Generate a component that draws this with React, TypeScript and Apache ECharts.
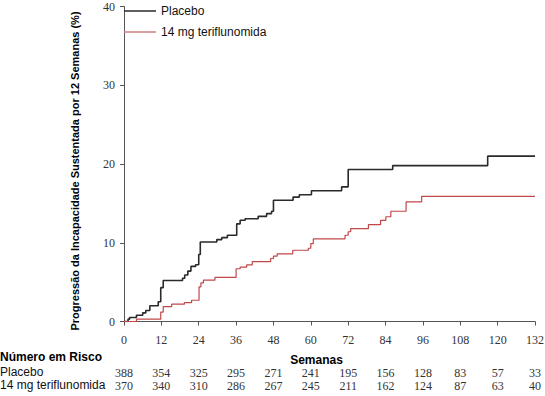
import React, { useEffect, useRef } from 'react';
import * as echarts from 'echarts';

const placeboWeeks = [0, 1.3, 1.8, 4, 6, 7, 8.3, 11, 11.8, 12.6, 18.8, 19.5, 20.5, 21.5, 23, 24, 24.5, 29.8, 31.4, 33.2, 36.2, 37.3, 38.9, 43.1, 45.8, 47.4, 48, 54.3, 56.3, 60.2, 69.9, 72, 86.3, 116.8, 132];
const placeboPct = [0, 0.3, 0.5, 0.8, 1.1, 1.4, 2.0, 2.5, 4.3, 5.2, 5.5, 5.9, 6.4, 7.0, 7.2, 8.5, 10.1, 10.4, 10.65, 10.95, 12.4, 12.85, 13.05, 13.35, 13.7, 14.0, 15.4, 15.8, 16.1, 16.6, 17.1, 19.3, 19.8, 21.0, 21.0];

const teriWeeks = [0, 4, 11.8, 12.6, 15.3, 19.4, 21.7, 24.1, 24.7, 25.5, 29.2, 36, 37.3, 39.4, 41.2, 47.1, 48, 49.2, 54.2, 59.2, 60, 60.8, 71, 72, 72.8, 78.5, 82.4, 84.1, 85.7, 90.6, 95.6, 132];
const teriPct = [0, 0.3, 1.2, 1.9, 2.2, 2.4, 2.7, 4.4, 4.9, 5.25, 5.6, 6.7, 6.9, 7.2, 7.6, 8.0, 8.3, 8.6, 9.05, 9.3, 9.9, 10.5, 10.95, 11.4, 11.8, 12.3, 12.85, 13.3, 14.0, 15.2, 15.9, 15.9];

const riskPlacebo = [388, 354, 325, 295, 271, 241, 195, 156, 128, 83, 57, 33];
const riskTeri = [370, 340, 310, 286, 267, 245, 211, 162, 124, 87, 63, 40];

const seriesNames = ['Placebo', '14 mg teriflunomida'];
const rowLabels = ['Número em Risco', 'Placebo', '14 mg teriflunomida'];
const xTitle = 'Semanas';
const yTitle = 'Progressão da Incapacidade Sustentada por 12 Semanas (%)';

const SERIF = '"Liberation Serif", "DejaVu Serif", serif';
const SANS = '"Liberation Sans", Arial, sans-serif';

export default function App() {
  const ref = useRef<HTMLDivElement>(null);
  useEffect(() => {
    document.body.style.margin = '0';
    const chart = echarts.init(ref.current!, null, { renderer: 'svg' });
    const riskAxis = (vals: number[], offset: number) => ({
      type: 'value',
      position: 'bottom',
      min: 0,
      max: 132,
      interval: 12,
      offset,
      axisLine: { show: false },
      axisTick: { show: false },
      splitLine: { show: false },
      axisLabel: {
        margin: 0,
        fontFamily: SERIF,
        fontSize: 12,
        color: '#333',
        formatter: (v: number) => {
          const r = vals[Math.round(v / 12)];
          return r === undefined ? '' : String(r);
        },
      },
    });
    chart.setOption({
      animation: false,
      backgroundColor: '#fff',
      grid: { left: 124, right: 10, top: 6.5, bottom: 74.5, containLabel: false, outerBoundsMode: 'none' },
      legend: {
        orient: 'vertical',
        left: 119,
        top: 0,
        icon: 'rect',
        itemWidth: 32,
        itemHeight: 1.5,
        itemGap: 9,
        textStyle: { fontFamily: SANS, fontSize: 12, color: '#111' },
        data: seriesNames,
      },
      xAxis: [
        {
          type: 'value',
          min: 0,
          max: 132,
          interval: 12,
          offset: 6,
          name: xTitle,
          nameLocation: 'middle',
          nameGap: 26,
          nameTextStyle: { fontFamily: SANS, fontSize: 12, fontWeight: 'bold', color: '#000', padding: [0, 26, 0, 0] },
          axisLine: { lineStyle: { color: '#555', width: 1 } },
          axisTick: { length: 4, lineStyle: { color: '#555' } },
          splitLine: { show: false },
          axisLabel: { margin: 6, fontFamily: SERIF, fontSize: 12, color: '#333' },
        },
        riskAxis(riskPlacebo, 45),
        riskAxis(riskTeri, 58),
      ],
      yAxis: {
        type: 'value',
        min: 0,
        max: 40,
        interval: 10,
        offset: 6,
        name: yTitle,
        nameLocation: 'middle',
        nameGap: 38,
        nameTextStyle: { fontFamily: SANS, fontSize: 11, fontWeight: 'bold', color: '#000', padding: [0, 14, 0, 0] },
        axisLine: { show: true, lineStyle: { color: '#555', width: 1 } },
        axisTick: { show: true, length: 4, lineStyle: { color: '#555' } },
        splitLine: { show: false },
        axisLabel: { margin: 3, fontFamily: SERIF, fontSize: 12, color: '#333' },
      },
      series: [
        {
          name: seriesNames[0],
          type: 'line',
          step: 'end',
          symbol: 'none',
          lineStyle: { color: '#2a2a2a', width: 1.6 },
          itemStyle: { color: '#2a2a2a' },
          data: placeboWeeks.map((w, i) => [w, placeboPct[i]]),
        },
        {
          name: seriesNames[1],
          type: 'line',
          step: 'end',
          symbol: 'none',
          lineStyle: { color: '#c04848', width: 1.2 },
          itemStyle: { color: '#d08080' },
          data: teriWeeks.map((w, i) => [w, teriPct[i]]),
        },
      ],
      graphic: [
        { type: 'text', left: 0, top: 351, style: { text: rowLabels[0], font: 'bold 12px ' + SANS, fill: '#000' } },
        { type: 'text', left: 0, top: 366, style: { text: rowLabels[1], font: '12px ' + SANS, fill: '#111' } },
        { type: 'text', left: 0, top: 379, style: { text: rowLabels[2], font: '12px ' + SANS, fill: '#111' } },
      ],
    });
    return () => chart.dispose();
  }, []);
  return <div ref={ref} style={{ width: 545, height: 396 }} />;
}
